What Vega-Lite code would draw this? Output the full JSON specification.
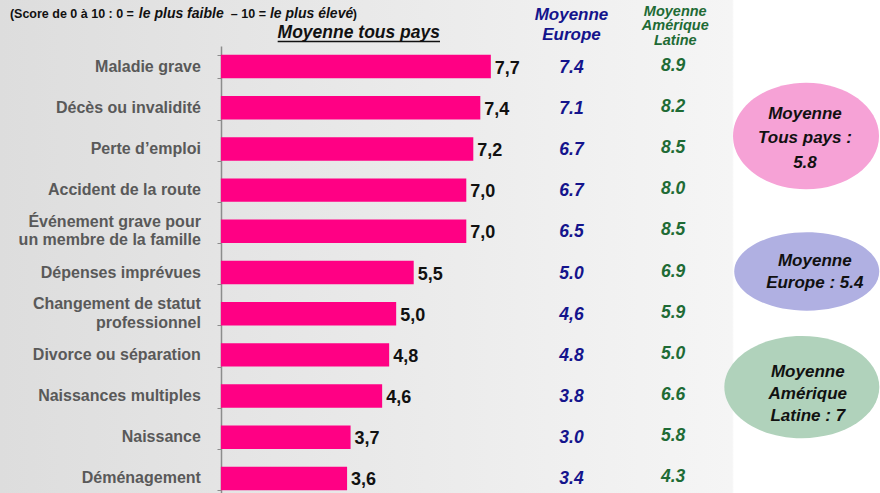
{
  "$schema": "https://vega.github.io/schema/vega-lite/v6.json",
  "width": 880,
  "height": 493,
  "autosize": {"type": "none"},
  "padding": 0,
  "background": "#ffffff",
  "config": {
    "font": "Liberation Sans",
    "view": {
      "stroke": null,
      "fill": {
        "gradient": "linear",
        "x1": 0, "y1": 0, "x2": 1, "y2": 0,
        "stops": [
          {"offset": 0, "color": "#dddddd"},
          {"offset": 0.832, "color": "#f5f5f5"},
          {"offset": 0.834, "color": "#ffffff"},
          {"offset": 1, "color": "#ffffff"}
        ]
      }
    },
    "locale": {
      "number": {"decimal": ",", "thousands": " ", "grouping": [3], "currency": ["", " €"]}
    }
  },
  "data": {
    "values": [
      {"label": "Maladie grave", "lines": "Maladie grave", "v": 7.7, "eu": "7.4", "la": "8.9"},
      {"label": "Décès ou invalidité", "lines": "Décès ou invalidité", "v": 7.4, "eu": "7.1", "la": "8.2"},
      {"label": "Perte d’emploi", "lines": "Perte d’emploi", "v": 7.2, "eu": "6.7", "la": "8.5"},
      {"label": "Accident de la route", "lines": "Accident de la route", "v": 7.0, "eu": "6.7", "la": "8.0"},
      {"label": "Événement grave pour un membre de la famille", "lines": ["Événement grave pour", "un membre de la famille"], "v": 7.0, "eu": "6.5", "la": "8.5"},
      {"label": "Dépenses imprévues", "lines": "Dépenses imprévues", "v": 5.5, "eu": "5.0", "la": "6.9"},
      {"label": "Changement de statut professionnel", "lines": ["Changement de statut", "professionnel"], "v": 5.0, "eu": "4,6", "la": "5.9"},
      {"label": "Divorce ou séparation", "lines": "Divorce ou séparation", "v": 4.8, "eu": "4.8", "la": "5.0"},
      {"label": "Naissances multiples", "lines": "Naissances multiples", "v": 4.6, "eu": "3.8", "la": "6.6"},
      {"label": "Naissance", "lines": "Naissance", "v": 3.7, "eu": "3.0", "la": "5.8"},
      {"label": "Déménagement", "lines": "Déménagement", "v": 3.6, "eu": "3.4", "la": "4.3"}
    ]
  },
  "layer": [
    {
      "mark": {"type": "bar", "color": "#ff0084"},
      "encoding": {
        "y": {
          "field": "label", "type": "nominal", "sort": null,
          "scale": {
            "domain": ["Maladie grave", "Décès ou invalidité", "Perte d’emploi", "Accident de la route", "Événement grave pour un membre de la famille", "Dépenses imprévues", "Changement de statut professionnel", "Divorce ou séparation", "Naissances multiples", "Naissance", "Déménagement"],
            "range": [46, 499],
            "paddingInner": 0.43,
            "paddingOuter": 0.215
          },
          "axis": {
            "title": null,
            "orient": "left",
            "offset": -221,
            "domainColor": "#8c8c8c",
            "domainWidth": 1.5,
            "tickColor": "#8c8c8c",
            "tickSize": 4,
            "tickBand": "extent",
            "labels": false,
            "grid": false
          }
        },
        "x": {
          "field": "v", "type": "quantitative",
          "scale": {"domain": [-6.3, 18.8], "nice": false, "zero": false},
          "axis": null
        }
      }
    },
    {
      "transform": [{"filter": "!isArray(datum.lines)"}],
      "mark": {"type": "text", "align": "right", "baseline": "middle", "fontSize": 16, "fontWeight": "bold", "color": "#595959"},
      "encoding": {
        "y": {"field": "label", "type": "nominal"},
        "x": {"datum": -0.57, "type": "quantitative"},
        "text": {"field": "lines", "type": "nominal"}
      }
    },
    {
      "transform": [{"filter": "isArray(datum.lines)"}],
      "mark": {"type": "text", "align": "right", "baseline": "middle", "dy": -9.5, "lineHeight": 18.5, "fontSize": 16, "fontWeight": "bold", "color": "#595959"},
      "encoding": {
        "y": {"field": "label", "type": "nominal"},
        "x": {"datum": -0.57, "type": "quantitative"},
        "text": {"field": "lines", "type": "nominal"}
      }
    },
    {
      "mark": {"type": "text", "align": "left", "baseline": "middle", "dx": 4, "dy": 2, "fontSize": 18, "fontWeight": "bold", "color": "#111111"},
      "encoding": {
        "y": {"field": "label", "type": "nominal"},
        "x": {"field": "v", "type": "quantitative"},
        "text": {"field": "v", "type": "quantitative", "format": ".1f"}
      }
    },
    {
      "mark": {"type": "text", "align": "center", "baseline": "middle", "dy": 1, "fontSize": 17.5, "fontWeight": "bold", "fontStyle": "italic", "color": "#14148c"},
      "encoding": {
        "y": {"field": "label", "type": "nominal"},
        "x": {"datum": 10.0, "type": "quantitative"},
        "text": {"field": "eu"}
      }
    },
    {
      "mark": {"type": "text", "align": "center", "baseline": "middle", "dy": -1, "fontSize": 17.5, "fontWeight": "bold", "fontStyle": "italic", "color": "#1e6b35"},
      "encoding": {
        "y": {"field": "label", "type": "nominal"},
        "x": {"datum": 12.9, "type": "quantitative"},
        "text": {"field": "la"}
      }
    },
    {
      "data": {"values": [{}]},
      "mark": {"type": "text", "align": "left", "baseline": "middle", "dy": -52.6, "fontSize": 12.5, "fontWeight": "bold", "color": "#111111"},
      "encoding": {
        "y": {"datum": "Maladie grave", "type": "nominal"},
        "x": {"datum": -6.018, "type": "quantitative"},
        "text": {"value": "(Score de 0 à 10 : 0 ="}
      }
    },
    {
      "data": {"values": [{}]},
      "mark": {"type": "text", "align": "left", "baseline": "middle", "dy": -52.6, "fontSize": 14, "fontWeight": "bold", "fontStyle": "italic", "color": "#111111"},
      "encoding": {
        "y": {"datum": "Maladie grave", "type": "nominal"},
        "x": {"datum": -2.339, "type": "quantitative"},
        "text": {"value": "le plus faible"}
      }
    },
    {
      "data": {"values": [{}]},
      "mark": {"type": "text", "align": "left", "baseline": "middle", "dy": -52.6, "fontSize": 12.5, "fontWeight": "bold", "color": "#111111"},
      "encoding": {
        "y": {"datum": "Maladie grave", "type": "nominal"},
        "x": {"datum": 0.285, "type": "quantitative"},
        "text": {"value": "– 10 ="}
      }
    },
    {
      "data": {"values": [{}]},
      "mark": {"type": "text", "align": "left", "baseline": "middle", "dy": -52.6, "fontSize": 14, "fontWeight": "bold", "fontStyle": "italic", "color": "#111111"},
      "encoding": {
        "y": {"datum": "Maladie grave", "type": "nominal"},
        "x": {"datum": 1.40, "type": "quantitative"},
        "text": {"value": "le plus élevé"}
      }
    },
    {
      "data": {"values": [{}]},
      "mark": {"type": "text", "align": "left", "baseline": "middle", "dy": -52.6, "fontSize": 12.5, "fontWeight": "bold", "color": "#111111"},
      "encoding": {
        "y": {"datum": "Maladie grave", "type": "nominal"},
        "x": {"datum": 3.76, "type": "quantitative"},
        "text": {"value": ")"}
      }
    },
    {
      "data": {"values": [{}]},
      "mark": {"type": "text", "align": "right", "baseline": "middle", "dy": -34, "fontSize": 17.5, "fontWeight": "bold", "fontStyle": "italic", "color": "#111111"},
      "encoding": {
        "y": {"datum": "Maladie grave", "type": "nominal"},
        "x": {"datum": 6.25, "type": "quantitative"},
        "text": {"value": "Moyenne tous pays"}
      }
    },
    {
      "data": {"values": [{}]},
      "mark": {"type": "rule", "yOffset": -25, "strokeWidth": 1.5, "color": "#111111"},
      "encoding": {
        "y": {"datum": "Maladie grave", "type": "nominal"},
        "x": {"datum": 1.62, "type": "quantitative"},
        "x2": {"datum": 6.25}
      }
    },
    {
      "data": {"values": [{}]},
      "mark": {"type": "text", "align": "center", "baseline": "middle", "dy": -51.6, "fontSize": 17, "lineHeight": 20, "fontWeight": "bold", "fontStyle": "italic", "color": "#14148c"},
      "encoding": {
        "y": {"datum": "Maladie grave", "type": "nominal"},
        "x": {"datum": 10.0, "type": "quantitative"},
        "text": {"value": ["Moyenne", "Europe"]}
      }
    },
    {
      "data": {"values": [{}]},
      "mark": {"type": "text", "align": "center", "baseline": "middle", "dy": -54.6, "fontSize": 14.5, "lineHeight": 14.5, "fontWeight": "bold", "fontStyle": "italic", "color": "#1e6b35"},
      "encoding": {
        "y": {"datum": "Maladie grave", "type": "nominal"},
        "x": {"datum": 12.96, "type": "quantitative"},
        "text": {"value": ["Moyenne", "Amérique", "Latine"]}
      }
    },
    {
      "data": {"values": [{}]},
      "mark": {"type": "point", "filled": true, "opacity": 1, "color": "#f6a2d6", "size": 21316, "yOffset": -13, "shape": "M-1,0A1,0.73,0,1,0,1,0A1,0.73,0,1,0,-1,0Z"},
      "encoding": {
        "y": {"datum": "Perte d’emploi", "type": "nominal"},
        "x": {"datum": 16.69, "type": "quantitative"}
      }
    },
    {
      "data": {"values": [{}]},
      "mark": {"type": "point", "filled": true, "opacity": 1, "color": "#b0b0e2", "size": 21025, "yOffset": -1, "shape": "M-1,0A1,0.54,0,1,0,1,0A1,0.54,0,1,0,-1,0Z"},
      "encoding": {
        "y": {"datum": "Dépenses imprévues", "type": "nominal"},
        "x": {"datum": 16.71, "type": "quantitative"}
      }
    },
    {
      "data": {"values": [{}]},
      "mark": {"type": "point", "filled": true, "opacity": 1, "color": "#b0d2bb", "size": 24025, "yOffset": -9, "shape": "M-1,0A1,0.66,0,1,0,1,0A1,0.66,0,1,0,-1,0Z"},
      "encoding": {
        "y": {"datum": "Naissances multiples", "type": "nominal"},
        "x": {"datum": 16.57, "type": "quantitative"}
      }
    },
    {
      "data": {"values": [{}]},
      "mark": {"type": "text", "align": "center", "baseline": "middle", "dy": -35, "fontSize": 17, "lineHeight": 24.5, "fontWeight": "bold", "fontStyle": "italic", "color": "#111111"},
      "encoding": {
        "y": {"datum": "Perte d’emploi", "type": "nominal"},
        "x": {"datum": 16.66, "type": "quantitative"},
        "text": {"value": ["Moyenne", "Tous pays :", "5.8"]}
      }
    },
    {
      "data": {"values": [{}]},
      "mark": {"type": "text", "align": "center", "baseline": "middle", "dy": -11.5, "fontSize": 17, "lineHeight": 22, "fontWeight": "bold", "fontStyle": "italic", "color": "#111111"},
      "encoding": {
        "y": {"datum": "Dépenses imprévues", "type": "nominal"},
        "x": {"datum": 16.94, "type": "quantitative"},
        "text": {"value": ["Moyenne", "Europe : 5.4"]}
      }
    },
    {
      "data": {"values": [{}]},
      "mark": {"type": "text", "align": "center", "baseline": "middle", "dy": -24, "fontSize": 17, "lineHeight": 22, "fontWeight": "bold", "fontStyle": "italic", "color": "#111111"},
      "encoding": {
        "y": {"datum": "Naissances multiples", "type": "nominal"},
        "x": {"datum": 16.74, "type": "quantitative"},
        "text": {"value": ["Moyenne", "Amérique", "Latine : 7"]}
      }
    }
  ]
}
